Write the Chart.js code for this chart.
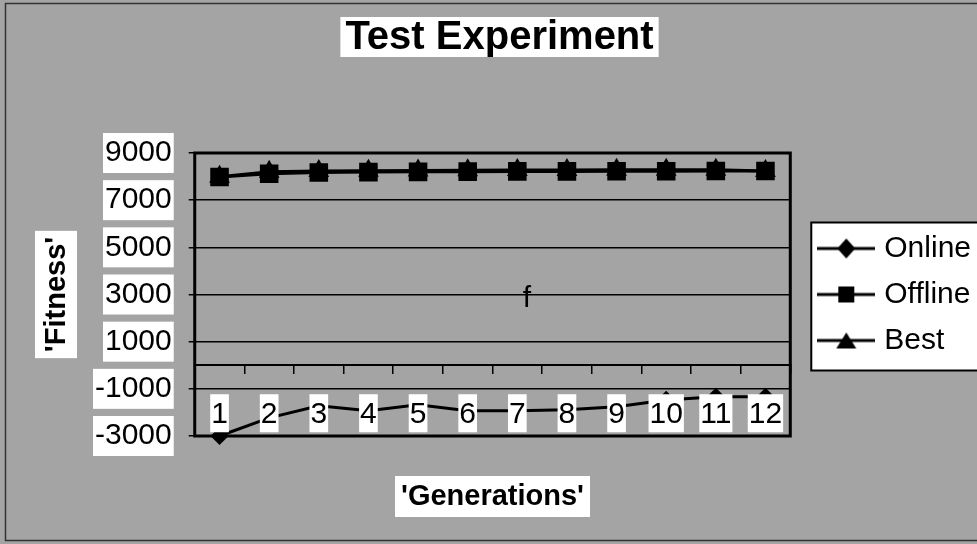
<!DOCTYPE html>
<html>
<head>
<meta charset="utf-8">
<script src="https://cdn.jsdelivr.net/npm/chart.js@4.4.0/dist/chart.umd.min.js"></script>
<style>
    html, body { margin: 0; padding: 0; background: #a4a4a4; }
    #wrap { width: 977px; height: 544px; position: relative; }
</style>
</head>
<body>
<div id="wrap"><canvas id="fitnessChart"></canvas></div>
<script>
var generations = ["1", "2", "3", "4", "5", "6", "7", "8", "9", "10", "11", "12"];
var onlineData = [-3000, -2230, -1720, -1930, -1680, -1930, -1930, -1890, -1760, -1470, -1340, -1340];
var offlineData = [7980, 8120, 8170, 8190, 8200, 8210, 8220, 8220, 8230, 8230, 8240, 8240];
var bestData = [7990, 8200, 8240, 8250, 8260, 8270, 8280, 8280, 8290, 8290, 8290, 8240];
var fitnessTicks = [-3000, -1000, 1000, 3000, 5000, 7000, 9000];

var FONT = "'Liberation Sans', Arial, sans-serif";
var bgGray = '#a4a4a4';

// legend swatch: a short line with the marker in the middle
function swatch(style) {
    var c = document.createElement('canvas');
    c.width = 58; c.height = 22;
    var g = c.getContext('2d');
    g.strokeStyle = '#000'; g.lineWidth = 3;
    g.beginPath(); g.moveTo(0, 11); g.lineTo(58, 11); g.stroke();
    g.fillStyle = '#000';
    g.beginPath();
    if (style === 'diamond') {
        g.moveTo(29, 1); g.lineTo(38, 11); g.lineTo(29, 21); g.lineTo(20, 11);
    } else if (style === 'square') {
        g.rect(21, 3, 16, 16);
    } else {
        g.moveTo(29, 3); g.lineTo(39, 19); g.lineTo(19, 19);
    }
    g.closePath(); g.fill();
    return c;
}
var swatches = [swatch('diamond'), swatch('square'), swatch('triangle')];

function whiteBox(ctx, x, y, w, h) {
    ctx.fillStyle = '#fff';
    ctx.fillRect(x, y, w, h);
}

var decor = {
    id: 'decor',
    beforeDraw: function (chart) {
        var ctx = chart.ctx, a = chart.chartArea;
        ctx.save();
        ctx.fillStyle = bgGray;
        ctx.fillRect(0, 0, chart.width, chart.height);
        ctx.strokeStyle = '#333'; ctx.lineWidth = 1.5;
        ctx.strokeRect(5.5, 3.5, chart.width, 537);

        // legend box
        var hb = chart.legend.legendHitBoxes;
        if (hb && hb.length) {
            var top = hb[0].top - 11;
            var bottom = hb[hb.length - 1].top + hb[hb.length - 1].height + 15;
            var left = hb[0].left - 12;
            ctx.fillStyle = '#fff';
            ctx.fillRect(left, top, chart.width - left + 5, bottom - top);
            ctx.strokeStyle = '#000'; ctx.lineWidth = 2;
            ctx.strokeRect(left, top, chart.width - left + 5, bottom - top);
        }

        // title
        ctx.font = 'bold 40px ' + FONT;
        ctx.textAlign = 'center'; ctx.textBaseline = 'middle';
        var cx = (a.left + a.right) / 2 + 7;
        var tw = ctx.measureText('Test Experiment').width;
        whiteBox(ctx, cx - tw / 2 - 5, 17, tw + 10, 40);
        ctx.fillStyle = '#000';
        ctx.fillText('Test Experiment', cx, 38);

        // x title
        ctx.font = 'bold 29px ' + FONT;
        var xw = ctx.measureText("'Generations'").width;
        var xc = (a.left + a.right) / 2;
        whiteBox(ctx, xc - xw / 2 - 6, 476, xw + 12, 41);
        ctx.fillStyle = '#000';
        ctx.fillText("'Generations'", xc, 497);

        // y title
        var yc = (a.top + a.bottom) / 2;
        var yw = ctx.measureText("'Fitness'").width;
        ctx.translate(56, yc);
        ctx.rotate(-Math.PI / 2);
        whiteBox(ctx, -yw / 2 - 6, -21, yw + 12, 42);
        ctx.fillStyle = '#000';
        ctx.fillText("'Fitness'", 0, 1);
        ctx.restore();
    },
    beforeDatasetsDraw: function (chart) {
        var ctx = chart.ctx, a = chart.chartArea;
        ctx.save();
        ctx.font = '30px ' + FONT;
        ctx.fillStyle = '#000';
        ctx.textAlign = 'center'; ctx.textBaseline = 'middle';
        ctx.fillText('f', 527, 299);
        ctx.strokeStyle = '#000'; ctx.lineWidth = 3;
        ctx.strokeRect(a.left, a.top, a.right - a.left, a.bottom - a.top);
        ctx.restore();
    }
};

var ctx = document.getElementById('fitnessChart');
var fitnessChart = new Chart(ctx, {
    type: 'line',
    data: {
        labels: generations,
        datasets: [{
            label: 'Online',
            data: onlineData,
            borderColor: '#000',
            backgroundColor: '#000',
            borderWidth: 3,
            pointStyle: 'rectRot',
            pointRadius: 7,
            clip: false,
        }, {
            label: 'Offline',
            data: offlineData,
            borderColor: '#000',
            backgroundColor: '#000',
            borderWidth: 3,
            pointStyle: 'rect',
            pointRadius: 11,
            clip: false,
        }, {
            label: 'Best',
            data: bestData,
            borderColor: '#000',
            backgroundColor: '#000',
            borderWidth: 3,
            pointStyle: 'triangle',
            pointRadius: 9,
            clip: false,
        }],
    },
    options: {
        responsive: true,
        maintainAspectRatio: false,
        animation: false,
        layout: {
            padding: { top: 153, bottom: 108, left: 78, right: -4 }
        },
        scales: {
            x: {
                position: { y: 0 },
                offset: true,
                grid: {
                    display: true,
                    drawOnChartArea: false,
                    offset: true,
                    color: '#000',
                    lineWidth: 1.5,
                    tickLength: 8,
                },
                border: { display: true, color: '#000', width: 2 },
                ticks: {
                    z: 1,
                    color: '#000',
                    padding: 23,
                    maxRotation: 0,
                    autoSkip: false,
                    font: { family: FONT, size: 30 },
                    showLabelBackdrop: true,
                    backdropColor: '#fff',
                    backdropPadding: { top: 2, bottom: 0, left: 1, right: 1 },
                },
            },
            y: {
                min: fitnessTicks[0],
                max: fitnessTicks[fitnessTicks.length - 1],
                afterBuildTicks: function (scale) {
                    scale.ticks = fitnessTicks.map(function (v) { return { value: v }; });
                },
                grid: {
                    color: '#000',
                    lineWidth: 1.5,
                    tickLength: 6,
                },
                border: { display: false },
                ticks: {
                    color: '#000',
                    padding: 17,
                    font: { family: FONT, size: 30 },
                    showLabelBackdrop: true,
                    backdropColor: '#fff',
                    backdropPadding: 2,
                    callback: function (v) { return String(v); },
                },
            },
            gap: {
                position: 'right',
                display: true,
                grid: { display: false },
                border: { display: false },
                ticks: { display: false },
                afterFit: function (scale) { scale.width = 17; },
            },
        },
        plugins: {
            legend: {
                display: true,
                position: 'right',
                maxWidth: 260,
                labels: {
                    color: '#000',
                    font: { family: FONT, size: 30 },
                    padding: 16,
                    usePointStyle: true,
                    pointStyleWidth: 46,
                    generateLabels: function (chart) {
                        return chart.data.datasets.map(function (ds, i) {
                            return {
                                text: ds.label,
                                pointStyle: swatches[i],
                                fillStyle: '#000',
                                strokeStyle: '#000',
                                lineWidth: 0,
                                datasetIndex: i,
                                fontColor: '#000',
                            };
                        });
                    },
                },
            },
            title: { display: false },
            tooltip: { enabled: false },
        },
    },
    plugins: [decor],
});
</script>
</body>
</html>
